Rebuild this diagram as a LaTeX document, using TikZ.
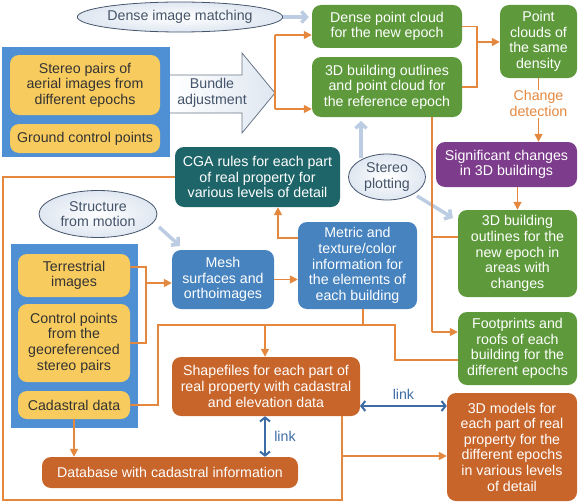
\documentclass[tikz,border=0pt]{standalone}
\usepackage{fontspec}
\setmainfont{Liberation Sans}
\usetikzlibrary{arrows.meta,shapes.geometric,calc}
\definecolor{cgreen}{HTML}{5E9A3C}
\definecolor{corange}{HTML}{C8652A}
\definecolor{oline}{HTML}{E5883F}
\definecolor{cpurple}{HTML}{7D3C8C}
\definecolor{cteal}{HTML}{1E6569}
\definecolor{cblue}{HTML}{4683BF}
\definecolor{bgblue}{HTML}{4F8FD4}
\definecolor{cyellow}{HTML}{F8CB5E}
\definecolor{ltblue}{HTML}{BCCDE3}
\definecolor{ellline}{HTML}{44546A}
\definecolor{ellfill}{HTML}{DFE7F1}
\definecolor{linkblue}{HTML}{3E6DA6}
\definecolor{ytext}{HTML}{333333}
\tikzset{
  box/.style={rectangle, rounded corners=9pt, inner sep=0pt, align=center, text=white},
  gbox/.style={box, fill=cgreen},
  obox/.style={box, fill=corange},
  bbox/.style={box, fill=cblue},
  ybox/.style={box, fill=cyellow, text=ytext},
  bgrect/.style={rectangle, fill=bgblue, inner sep=0pt},
  ell/.style={ellipse, draw=ellline, line width=0.8pt, inner color=white, outer color=ellfill, text=ellline, align=center, inner sep=0pt},
  oln/.style={draw=oline, line width=1.6pt},
  oarr/.style={oln, -{Triangle[length=8pt,width=8pt]}},
  barr/.style={draw=ltblue, line width=3.5pt, -{Straight Barb[length=5pt,width=11pt]}},
  lnk/.style={draw=linkblue, line width=2pt, {Straight Barb[length=4pt,width=10pt]}-{Straight Barb[length=4pt,width=10pt]}},
}
\begin{document}
\begin{tikzpicture}[x=1pt,y=-1pt,font=\fontsize{14.2}{15.6}\selectfont]
\useasboundingbox (0,0) rectangle (580,503);
% background blue rectangles
\node[bgrect, minimum width=168pt, minimum height=110pt] (blueA) at (86,102) {};
\node[bgrect, minimum width=127pt, minimum height=184pt] (blueB) at (74.5,336) {};
% yellow boxes
\node[ybox, minimum width=150pt, minimum height=60pt] (yA1) at (85,85) {Stereo pairs of\\aerial images from\\different epochs};
\node[ybox, minimum width=150pt, minimum height=29pt] (yA2) at (85,138.5) {Ground control points};
\node[ybox, minimum width=112pt, minimum height=43pt] (y3) at (74,275.5) {Terrestrial\\images};
\node[ybox, minimum width=112pt, minimum height=78pt] (y4) at (74,343) {Control points\\from the\\georeferenced\\stereo pairs};
\node[ybox, minimum width=112pt, minimum height=28pt] (y5) at (74,405) {Cadastral data};
% block arrow
\path[draw=ellline!80, line width=0.8pt, left color=white, right color=ellfill]
  (170,75) -- (242,75) -- (242,53) -- (275,93) -- (242,133) -- (242,113) -- (170,113);
\node[text=ellline, align=center] (bundle) at (212,93) {Bundle\\adjustment};
\coordinate (batip) at (275,93);
% ellipses
\node[ell, minimum width=195pt, minimum height=30pt] (ell1) at (180,17) {Dense image matching};
\node[ell, minimum width=77pt, minimum height=46pt] (ell2) at (387,177) {Stereo\\plotting};
\node[ell, minimum width=118pt, minimum height=47pt] (ell3) at (98,214) {Structure\\from motion};
% green boxes
\node[gbox, minimum width=150pt, minimum height=43pt] (g1) at (387,26.5) {Dense point cloud\\for the new epoch};
\node[gbox, minimum width=150pt, minimum height=60pt] (g2) at (387,87) {3D building outlines\\and point cloud for\\the reference epoch};
\node[gbox, minimum width=77pt, minimum height=73pt] (g3) at (538.5,41.5) {Point\\clouds of\\the same\\density};
\node[box, fill=cpurple, minimum width=141pt, minimum height=45pt] (purple) at (506.5,164.5) {Significant changes\\in 3D buildings};
\node[gbox, minimum width=119pt, minimum height=87pt] (g4) at (517.5,253.5) {3D building\\outlines for the\\new epoch in\\areas with\\changes};
\node[gbox, minimum width=119pt, minimum height=73pt] (g5) at (517.5,348.5) {Footprints and\\roofs of each\\building for the\\different epochs};
\node[obox, minimum width=130pt, minimum height=108pt] (o3) at (512,447) {3D models for\\each part of real\\property for the\\different epochs\\in various levels\\of detail};
\node[box, fill=cteal, minimum width=165pt, minimum height=60pt] (teal) at (257.5,177) {CGA rules for each part\\of real property for\\various levels of detail};
\node[bbox, minimum width=102pt, minimum height=59pt] (mesh) at (223,279.5) {Mesh\\surfaces and\\orthoimages};
\node[bbox, minimum width=119pt, minimum height=87pt] (metric) at (357.5,265.5) {Metric and\\texture/color\\information for\\the elements of\\each building};
\node[obox, minimum width=188pt, minimum height=59pt] (shp) at (266,386.5) {Shapefiles for each part of\\real property with cadastral\\and elevation data};
\node[obox, minimum width=256pt, minimum height=31pt] (db) at (170,472.5) {Database with cadastral information};
% coordinates
\coordinate (bA) at (275,35);
\coordinate (bB) at (275,109);
\coordinate (j1) at (477,42);
\coordinate (k1) at (432,237);
\coordinate (k2) at (432,332);
\coordinate (t0) at (146,267);
\coordinate (t1) at (146,283);
\coordinate (t2) at (146,343);
\coordinate (c1) at (278,238);
\coordinate (L1) at (3,177);
\coordinate (L2) at (3,500);
\coordinate (L3) at (342,500);
\coordinate (L4) at (342,456);
\coordinate (n0) at (158,325);
\coordinate (n1) at (363,325);
\coordinate (n2) at (395,325);
\coordinate (n3) at (395,360);
\coordinate (n4) at (265,325);
\coordinate (q1) at (360,406);
\coordinate (s1) at (361,158);
\coordinate (s1e) at (361,121);
\coordinate (s2) at (417,196);
\coordinate (s2e) at (453,218);
\coordinate (s3) at (159,227);
\coordinate (s3e) at (180,246);
% light blue arrows
\draw[barr] (ell1.east) -- ($(g1.west |- ell1.east)+(-3,0)$);
\draw[barr] (s1) -- (s1e);
\draw[barr] (s2) -- (s2e);
\draw[barr] (s3) -- (s3e);
% orange connectors
\draw[oln] (bA) -- (bB);
\draw[oarr] (bA) -- (g1.west |- bA);
\draw[oarr] (bB) -- (g2.west |- bB);
\draw[oln] (g1.east) -| (j1);
\draw[oln] (g2.east) -| (j1);
\draw[oarr] (j1) -- (g3.west |- j1);
\draw[oarr] (g3.south) -- node[pos=0.4, fill=white, text=oline, align=center, inner sep=1pt] (chg) {Change\\detection} (g3.south |- purple.north);
\draw[oarr] (purple.south -| g4.north) -- (g4.north);
\draw[oln] (g2.south -| k1) -- (k2);
\draw[oln] (k1) -- (g4.west |- k1);
\draw[oarr] (k2) -- (g5.west |- k2);
\draw[oln] (y3.east |- t0) -- (t0) -- (t2) -- (y4.east |- t2);
\draw[oarr] (t1) -- (mesh.west |- t1);
\draw[oarr] (mesh.east) -- (metric.west |- mesh.east);
\draw[oarr] (metric.west |- c1) -- (c1) -- (teal.south -| c1);
\draw[oln] (teal.west |- L1) -- (L1) -- (L2) -- (L3) -- (shp.south -| L3);
\draw[oarr] (L4) -- (o3.west |- L4);
\draw[oln] (metric.south -| n1) -- (n1);
\draw[oln] (y5.east) -| (n0) -- (n2) -- (n3) -- (g5.west |- n3);
\draw[oarr] (n4) -- (shp.north -| n4);
\draw[oarr] (y5.south) -- (db.north -| y5.south);
% link arrows
\draw[lnk] (shp.south -| n4) -- node[right=5pt, text=linkblue] (lk1) {link} (db.north -| n4);
\draw[lnk] (q1) -- node[above=2pt, text=linkblue] (lk2) {link} (o3.west |- q1);
\end{tikzpicture}
\end{document}
